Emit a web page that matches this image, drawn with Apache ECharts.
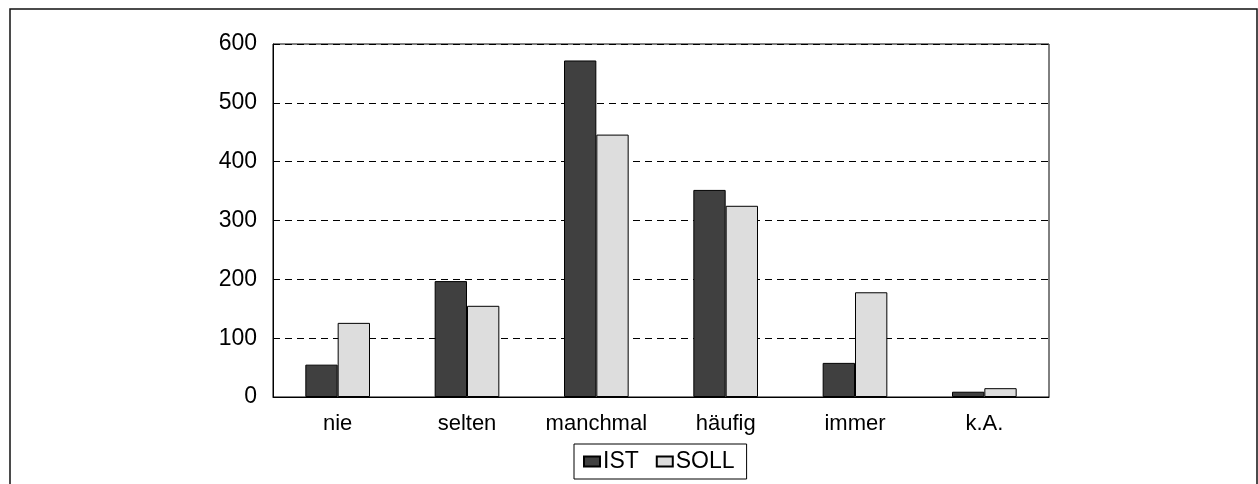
<!DOCTYPE html>
<html>
<head>
<meta charset="utf-8">
<script src="https://cdn.jsdelivr.net/npm/echarts@6/dist/echarts.min.js"></script>
<style>
  html, body { margin: 0; padding: 0; background: #fff; }
  #chart { width: 1258px; height: 484px; }
</style>
</head>
<body>
<div id="chart"></div>
<script>
// data
const categories = ['nie', 'selten', 'manchmal', 'häufig', 'immer', 'k.A.'];
const istValues = [55, 197, 572, 352, 58, 9];
const sollValues = [126, 155, 446, 325, 178, 15];
const yTicks = [0, 100, 200, 300, 400, 500, 600];

const chart = echarts.init(document.getElementById('chart'));

const option = {
    backgroundColor: '#ffffff',
    animation: false,
    textStyle: { fontFamily: 'Liberation Sans, Arial, sans-serif', color: '#000' },
    graphic: [{
        type: 'rect',
        shape: { x: 10, y: 9, width: 1247, height: 490 },
        style: { fill: 'none', stroke: '#111', lineWidth: 1.5 },
        silent: true,
    }],
    grid: {
        left: 273,
        right: 209,
        top: 44,
        bottom: 87,
        show: true,
        borderColor: '#000',
        borderWidth: 1,
        backgroundColor: 'transparent',
    },
    legend: {
        data: ['IST', 'SOLL'],
        left: 574,
        top: 444,
        padding: [6, 12, 6, 9],
        borderColor: '#000',
        borderWidth: 1,
        icon: 'rect',
        itemWidth: 16,
        itemHeight: 10,
        itemGap: 17,
        textStyle: { fontSize: 23, color: '#000', padding: [0, 0, 0, -2] },
    },
    xAxis: {
        type: 'category',
        data: categories,
        axisLine: { lineStyle: { color: '#000', width: 1 } },
        axisTick: { show: false },
        axisLabel: { fontSize: 22, color: '#000', margin: 16, interval: 0 },
    },
    yAxis: {
        type: 'value',
        min: yTicks[0],
        max: yTicks[yTicks.length - 1],
        interval: 100,
        axisLine: { show: true, lineStyle: { color: '#000', width: 1 } },
        axisTick: { show: false },
        axisLabel: { fontSize: 23, color: '#000', margin: 16 },
        splitLine: { lineStyle: { color: '#000', type: [7, 5], width: 1 } },
    },
    series: [
        {
            name: 'IST',
            type: 'bar',
            data: istValues,
            barWidth: '25%',
            barGap: '0%',
            itemStyle: { color: '#404040', borderColor: '#000', borderWidth: 1 },
        },
        {
            name: 'SOLL',
            type: 'bar',
            data: sollValues,
            barWidth: '25%',
            barGap: '0%',
            itemStyle: { color: '#dddddd', borderColor: '#000', borderWidth: 1 },
        },
    ],
};

chart.setOption(option);
</script>
</body>
</html>
